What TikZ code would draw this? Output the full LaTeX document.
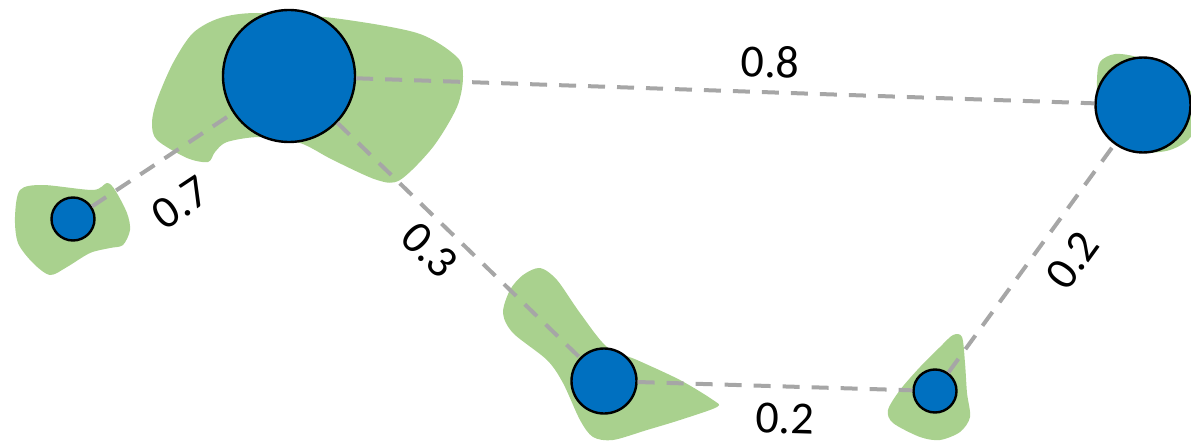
\documentclass[tikz,border=0pt]{standalone}
\usepackage{fontspec}
\setmainfont{Carlito}
\usetikzlibrary{positioning}
\definecolor{siteblue}{HTML}{0070C0}
\definecolor{blobgreen}{HTML}{A9D18E}
\definecolor{linkgray}{HTML}{A6A6A6}

\begin{document}
\begin{tikzpicture}[
    x=1pt,y=-1pt,
    blob/.style   ={fill=blobgreen,draw=none},
    site/.style   ={circle,draw=black,line width=2.4pt,fill=siteblue,inner sep=0pt},
    link/.style   ={draw=linkgray,line width=4pt,dash pattern=on 17pt off 12pt},
    weight/.style ={font=\fontsize{46}{50}\selectfont,inner sep=0pt,sloped}
]
\useasboundingbox (0,0) rectangle (1191,441);

% green regions
\fill[blob] plot[smooth cycle] coordinates {(257,13) (333,18) (417,33) (457,57) (463,77)
    (457,107) (433,147) (400,180) (377,180) (333,160) (300,143) (260,137) (227,142)
    (215,152) (208,162) (187,158) (157,140) (152,123) (157,100) (173,63) (193,33) (220,18)};
\fill[blob] plot[smooth cycle] coordinates {(20,190) (43,185) (93,190) (107,183) (115,190)
    (127,213) (130,230) (123,245) (110,248) (90,253) (67,267) (50,275) (33,263) (18,243) (15,217)};
\fill[blob] plot[smooth cycle] coordinates {(540,268) (557,280) (580,313) (607,347) (637,360)
    (680,380) (713,400) (717,407) (680,420) (647,430) (613,440) (593,437) (580,420)
    (563,383) (547,360) (513,333) (503,313) (510,290) (523,275)};
\fill[blob] plot[smooth cycle] coordinates {(953,335) (962,337) (965,363) (967,393) (970,417)
    (960,432) (940,440) (920,437) (893,423) (888,410) (900,390) (920,367) (940,347)};
\fill[blob] plot[smooth cycle] coordinates {(1100,62) (1115,54) (1140,58) (1175,75) (1195,100)
    (1192,135) (1170,150) (1140,152) (1110,140) (1098,110) (1097,80)};

\node[site, minimum size=132pt] (hub)   at (289,76)   {};
\node[site, minimum size=43pt]  (west)  at (73,219)   {};
\node[site, minimum size=95pt]  (east)  at (1143,105) {};
\node[site, minimum size=65pt]  (south) at (604,381)  {};
\node[site, minimum size=43pt]  (dip)   at (935,391)  {};

\draw[link] (west)  -- node[weight, pos=0.45, below=29pt]   {0.7} (hub);
\draw[link] (hub)   -- node[weight, pos=0.56, above=12.5pt] {0.8} (east);
\draw[link] (hub)   -- node[weight, pos=0.46, below=10pt]   {0.3} (south);
\draw[link] (south) -- node[weight, pos=0.54, below=15pt]   {0.2} (dip);
\draw[link] (dip)   -- node[weight, pos=0.58, below=17pt]   {0.2} (east);

\end{tikzpicture}
\end{document}
